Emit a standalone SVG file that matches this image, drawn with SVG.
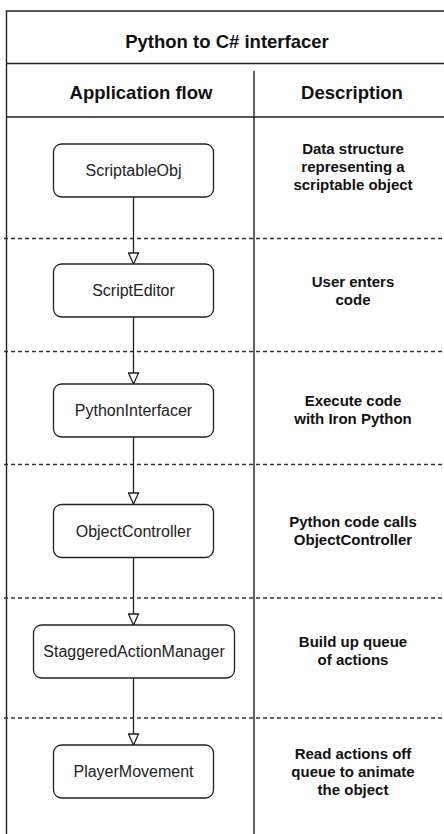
<svg xmlns="http://www.w3.org/2000/svg" width="444" height="834" viewBox="0 0 444 834">
<defs>
<style>
.frame{fill:none;stroke:#222;stroke-width:1.4}
.dash{fill:none;stroke:#333;stroke-width:1.3;stroke-dasharray:4 3}
.node rect{fill:#fff;stroke:#222;stroke-width:1.3}
.node text{font-family:"Liberation Sans",Arial,sans-serif;font-size:16px;fill:#222;text-anchor:middle}
.desc{font-family:"Liberation Sans",Arial,sans-serif;font-size:15px;font-weight:bold;fill:#111;text-anchor:middle}
.head{font-family:"Liberation Sans",Arial,sans-serif;font-size:18.5px;font-weight:bold;fill:#111;text-anchor:middle}
.conn{fill:none;stroke:#222;stroke-width:1.3}
</style>
<marker id="arr" markerUnits="userSpaceOnUse" markerWidth="14" markerHeight="12" refX="12" refY="6" orient="auto">
<path d="M1,1 L12,6 L1,11 Z" fill="#fff" stroke="#222" stroke-width="1.3"/>
</marker>
</defs>
<rect width="444" height="834" fill="#fff"/>
<g id="table">
<path class="frame" d="M6.5,850 V11 H450 M6.5,63.5 H450 M6.5,117 H450 M254,71 V850"/>
<g class="dashes">
<line class="dash" x1="4" y1="238.5" x2="444" y2="238.5"/>
<line class="dash" x1="4" y1="351.5" x2="444" y2="351.5"/>
<line class="dash" x1="4" y1="464.5" x2="444" y2="464.5"/>
<line class="dash" x1="4" y1="598" x2="444" y2="598"/>
<line class="dash" x1="4" y1="718" x2="444" y2="718"/>
</g>
<text class="head" x="227" y="47.5">Python to C# interfacer</text>
<text class="head" x="141" y="98.5">Application flow</text>
<text class="head" x="352" y="98.5">Description</text>
</g>
<g id="connectors">
<line class="conn" x1="133.5" y1="197" x2="133.5" y2="264" marker-end="url(#arr)"/>
<line class="conn" x1="133.5" y1="317" x2="133.5" y2="384" marker-end="url(#arr)"/>
<line class="conn" x1="133.5" y1="437" x2="133.5" y2="504" marker-end="url(#arr)"/>
<line class="conn" x1="133.5" y1="558" x2="133.5" y2="625" marker-end="url(#arr)"/>
<line class="conn" x1="133.5" y1="678" x2="133.5" y2="745" marker-end="url(#arr)"/>
</g>
<g id="n1" class="node"><rect x="53.5" y="144" width="160" height="53" rx="8"/><text x="133.5" y="176">ScriptableObj</text></g>
<g id="n2" class="node"><rect x="53.5" y="264" width="160" height="53" rx="8"/><text x="133.5" y="296">ScriptEditor</text></g>
<g id="n3" class="node"><rect x="53.5" y="384" width="160" height="53" rx="8"/><text x="133.5" y="416">PythonInterfacer</text></g>
<g id="n4" class="node"><rect x="53.5" y="504.5" width="160" height="53" rx="8"/><text x="133.5" y="536.5">ObjectController</text></g>
<g id="n5" class="node"><rect x="33.5" y="625" width="201" height="53" rx="8"/><text x="134" y="657">StaggeredActionManager</text></g>
<g id="n6" class="node"><rect x="53.5" y="745" width="160" height="53" rx="8"/><text x="133.5" y="777">PlayerMovement</text></g>
<g id="d1"><text class="desc" x="353" y="154">Data structure</text><text class="desc" x="353" y="172">representing a</text><text class="desc" x="353" y="190">scriptable object</text></g>
<g id="d2"><text class="desc" x="353" y="287">User enters</text><text class="desc" x="353" y="305">code</text></g>
<g id="d3"><text class="desc" x="353" y="406">Execute code</text><text class="desc" x="353" y="424">with Iron Python</text></g>
<g id="d4"><text class="desc" x="353" y="527">Python code calls</text><text class="desc" x="353" y="545">ObjectController</text></g>
<g id="d5"><text class="desc" x="353" y="647">Build up queue</text><text class="desc" x="353" y="665">of actions</text></g>
<g id="d6"><text class="desc" x="353" y="759">Read actions off</text><text class="desc" x="353" y="777">queue to animate</text><text class="desc" x="353" y="795">the object</text></g>
</svg>
